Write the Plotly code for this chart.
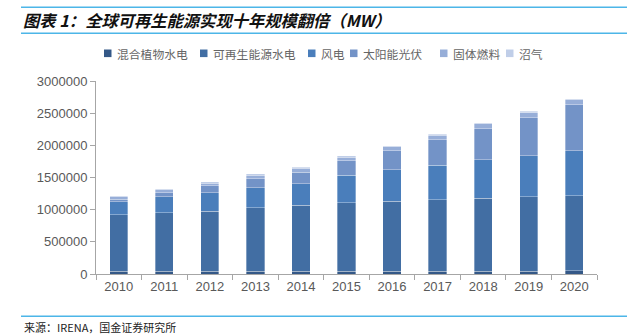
import plotly.graph_objects as go

years = ["2010", "2011", "2012", "2013", "2014", "2015", "2016", "2017", "2018", "2019", "2020"]
mixed_hydro = [42000, 42000, 43000, 43000, 44000, 44000, 45000, 45000, 46000, 46000, 47000]
renew_hydro = [882000, 907000, 932000, 984000, 1024000, 1061000, 1086000, 1106000, 1131000, 1152000, 1166000]
wind = [196000, 249000, 291000, 317000, 338000, 430000, 486000, 539000, 596000, 643000, 700000]
solar = [40000, 68000, 103000, 139000, 176000, 228000, 302000, 394000, 482000, 585000, 721000]
solid_bio = [43000, 46000, 45000, 54000, 59000, 53000, 59000, 69000, 79000, 80000, 73000]
biogas = [15000, 16000, 17000, 18000, 18000, 19000, 19000, 20000, 20000, 20000, 21000]

series_names = ["混合植物水电", "可再生能源水电", "风电", "太阳能光伏", "固体燃料", "沼气"]
series_values = [mixed_hydro, renew_hydro, wind, solar, solid_bio, biogas]
series_colors = ["#345887", "#426EA3", "#4A7EBB", "#7393C7", "#97AED8", "#C0CEE8"]

W, H = 627, 335
L, R, T, B = 96, 597, 80.7, 273.7

def px(x):
    return (x - L) / (R - L)

def py(y):
    return (B - y) / (B - T)

fig = go.Figure()
for name, vals, col in zip(series_names, series_values, series_colors):
    fig.add_trace(go.Bar(
        x=years, y=vals, name=name,
        marker=dict(color=col, line=dict(color="rgba(255,255,255,0.55)", width=0.6)),
    ))

CJK = "Noto Sans CJK SC"
blue = "#4DB6E8"

shapes = []
for yy in (7, 33, 316):
    shapes.append(dict(type="line", xref="paper", yref="paper",
                       x0=px(21), x1=px(627), y0=py(yy), y1=py(yy),
                       line=dict(color=blue, width=1.6)))

annotations = [
    dict(text="<b><i>图表 1：全球可再生能源实现十年规模翻倍（MW）</i></b>",
         xref="paper", yref="paper", x=px(21), y=py(20), xanchor="left", yanchor="middle",
         showarrow=False, font=dict(family=CJK, size=16.3, color="#111111")),
    dict(text="来源：IRENA，国金证券研究所",
         xref="paper", yref="paper", x=px(22), y=py(327), xanchor="left", yanchor="middle",
         showarrow=False, font=dict(family=CJK, size=11, color="#222222")),
]

# custom legend (square + label), laid out like the reference
legend_sq_x = [104, 200, 308, 350, 440, 506]
legend_y = 53
for name, col, sx in zip(series_names, series_colors, legend_sq_x):
    shapes.append(dict(type="rect", xref="paper", yref="paper",
                       x0=px(sx), x1=px(sx + 7.5), y0=py(legend_y + 3.8), y1=py(legend_y - 3.8),
                       fillcolor=col, line=dict(width=0)))
    annotations.append(dict(text=name, xref="paper", yref="paper", x=px(sx + 11), y=py(legend_y + 0.5),
                            xanchor="left", yanchor="middle", showarrow=False,
                            font=dict(family=CJK, size=11.8, color="#666666")))

fig.update_layout(
    width=W, height=H,
    margin=dict(l=L, r=W - R, t=T, b=H - B, pad=0),
    paper_bgcolor="white", plot_bgcolor="white",
    barmode="stack", bargap=0.6,
    showlegend=False,
    xaxis=dict(type="category", range=[-0.5, 10.5], showline=True, linecolor="#A6A6A6", linewidth=1,
               ticks="outside", tickson="boundaries", ticklen=5, tickcolor="#A6A6A6",
               tickfont=dict(family="Liberation Sans", size=13, color="#595959"),
               showgrid=False, zeroline=False),
    yaxis=dict(range=[0, 3000000], tickvals=[0, 500000, 1000000, 1500000, 2000000, 2500000, 3000000],
               tickformat="d", showline=True, linecolor="#A6A6A6", linewidth=1,
               ticks="outside", ticklen=5, tickcolor="#A6A6A6",
               tickfont=dict(family="Liberation Sans", size=13, color="#595959"),
               showgrid=False, zeroline=False),
    shapes=shapes, annotations=annotations,
)

fig.write_html("out.html")
